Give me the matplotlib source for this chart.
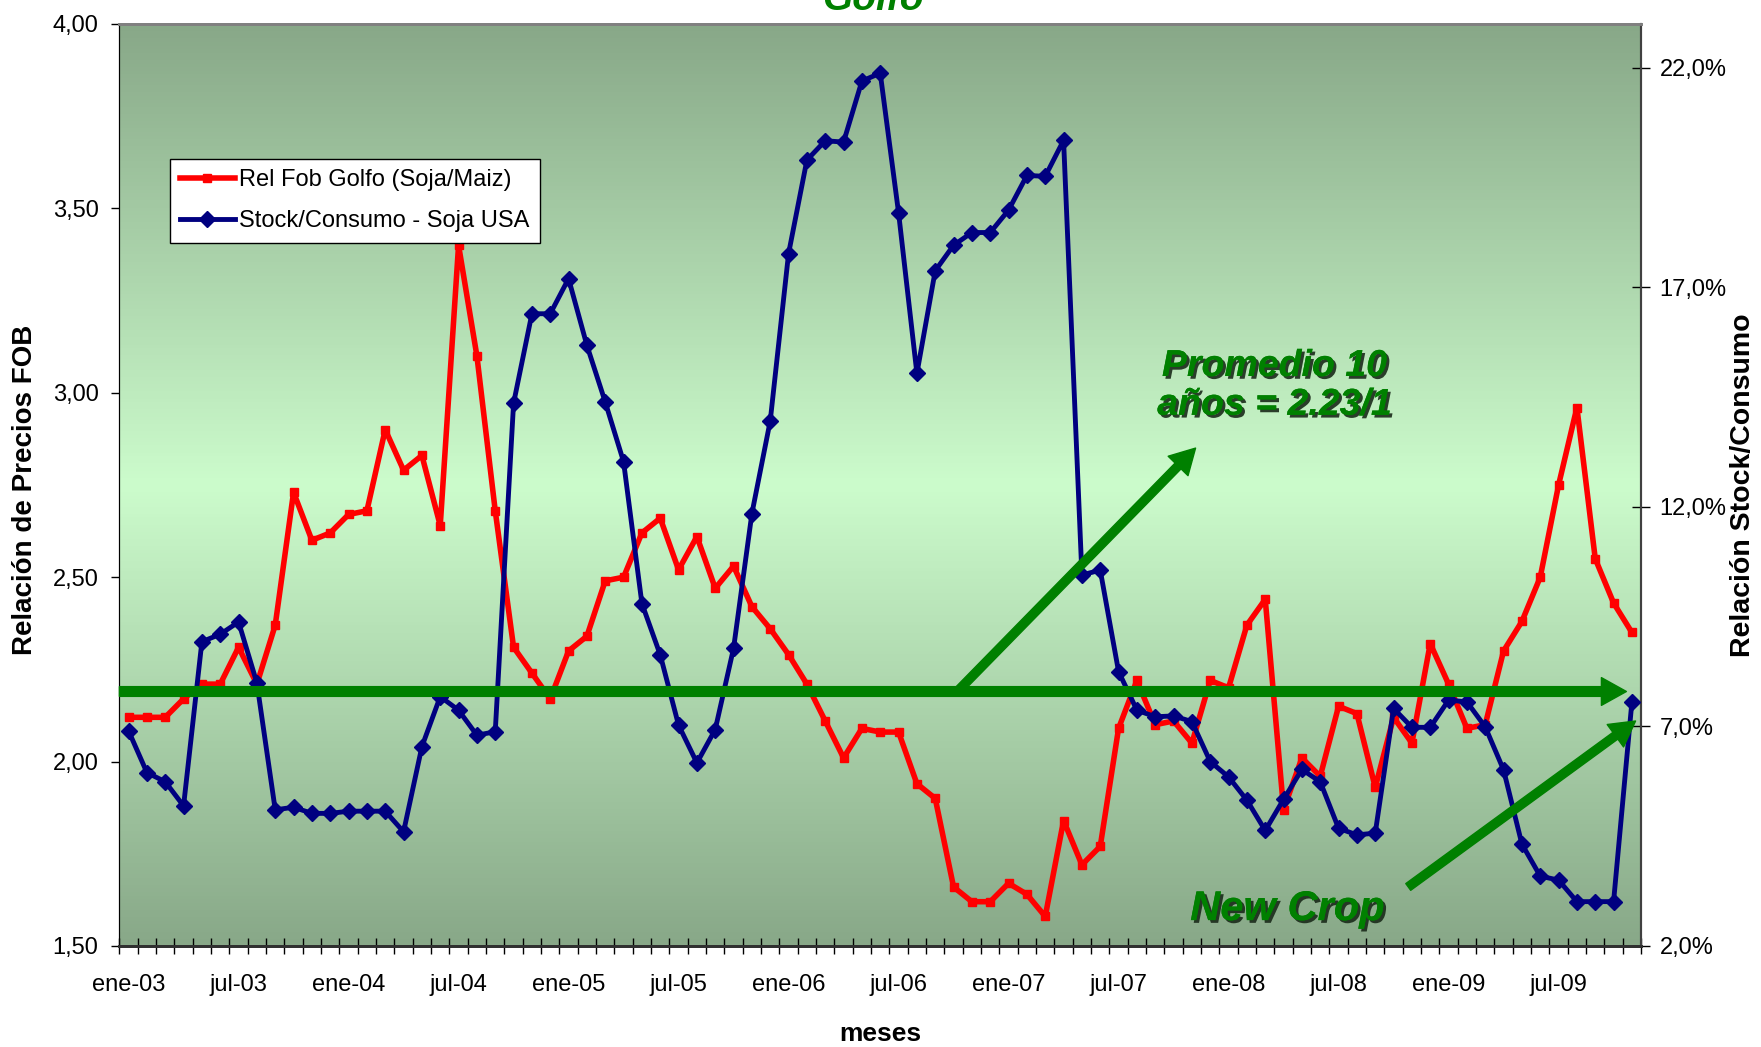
import matplotlib
matplotlib.use("Agg")
import matplotlib.pyplot as plt
import matplotlib.patheffects as pe
from matplotlib.colors import LinearSegmentedColormap
from matplotlib.ticker import FuncFormatter, FixedLocator, MultipleLocator
import numpy as np

plt.rcParams['font.family'] = ['Liberation Sans', 'DejaVu Sans']

# Datos: ene-03 ... nov-09 (mensual)
meses = ['ene-03', 'jul-03', 'ene-04', 'jul-04', 'ene-05', 'jul-05', 'ene-06',
         'jul-06', 'ene-07', 'jul-07', 'ene-08', 'jul-08', 'ene-09', 'jul-09']

rel_fob = [2.12, 2.12, 2.12, 2.17, 2.21, 2.21, 2.31, 2.21, 2.37, 2.73,
           2.60, 2.62, 2.67, 2.68, 2.90, 2.79, 2.83, 2.64, 3.40, 3.10,
           2.68, 2.31, 2.24, 2.17, 2.30, 2.34, 2.49, 2.50, 2.62, 2.66,
           2.52, 2.61, 2.47, 2.53, 2.42, 2.36, 2.29, 2.21, 2.11, 2.01,
           2.09, 2.08, 2.08, 1.94, 1.90, 1.66, 1.62, 1.62, 1.67, 1.64,
           1.58, 1.84, 1.72, 1.77, 2.09, 2.22, 2.10, 2.11, 2.05, 2.22,
           2.20, 2.37, 2.44, 1.87, 2.01, 1.96, 2.15, 2.13, 1.93, 2.12,
           2.05, 2.32, 2.21, 2.09, 2.10, 2.30, 2.38, 2.50, 2.75, 2.96,
           2.55, 2.43, 2.35]

stock_consumo = [6.90, 5.95, 5.74, 5.19, 8.93, 9.10, 9.38, 7.99, 5.10, 5.16,
                 5.02, 5.02, 5.07, 5.07, 5.07, 4.60, 6.54, 7.68, 7.37, 6.80,
                 6.88, 14.36, 16.40, 16.40, 17.20, 15.68, 14.39, 13.03, 9.80, 8.63,
                 7.03, 6.17, 6.93, 8.78, 11.85, 13.96, 17.77, 19.90, 20.34, 20.31,
                 21.70, 21.88, 18.70, 15.04, 17.38, 17.96, 18.25, 18.25, 18.76, 19.55,
                 19.53, 20.35, 10.45, 10.56, 8.25, 7.37, 7.22, 7.24, 7.11, 6.20,
                 5.85, 5.32, 4.63, 5.34, 6.02, 5.74, 4.68, 4.53, 4.57, 7.41,
                 6.98, 6.98, 7.60, 7.56, 6.99, 6.01, 4.32, 3.59, 3.50, 3.01,
                 3.01, 3.01, 7.56]

promedio_linea = 2.19

fig = plt.figure(figsize=(17.61, 10.47), dpi=100)
ax = fig.add_axes([0.0678, 0.0965, 0.8641, 0.8806])
ax2 = ax.twinx()

n = len(rel_fob)
x = np.arange(n)

# fondo degradado
cmap = LinearSegmentedColormap.from_list('fondo', ['#88a888', '#ccfccc', '#88a888'])
grad = np.linspace(0, 1, 256).reshape(-1, 1)
ax.imshow(grad, cmap=cmap, aspect='auto', extent=(-0.5, n - 0.5, 1.5, 4.0),
          zorder=0, origin='upper')

l1, = ax.plot(x, rel_fob, color='#ff0000', lw=4, marker='s', ms=5.5,
              label='Rel Fob Golfo (Soja/Maiz)', zorder=3)
l2, = ax2.plot(x, np.array(stock_consumo) / 100, color='#000080', lw=3.5, marker='D',
               ms=8.5, label='Stock/Consumo - Soja USA', zorder=3)

ax.set_xlim(-0.5, n - 0.5)
ax.set_ylim(1.5, 4.0)
ax2.set_ylim(0.02, 0.23)
ax2.patch.set_visible(False)

ax.yaxis.set_major_locator(MultipleLocator(0.5))
ax.yaxis.set_major_formatter(FuncFormatter(lambda v, p: f'{v:.2f}'.replace('.', ',')))
ax2.yaxis.set_major_locator(FixedLocator([0.02, 0.07, 0.12, 0.17, 0.22]))
ax2.yaxis.set_major_formatter(FuncFormatter(lambda v, p: f'{v*100:.1f}%'.replace('.', ',')))

ax.set_xticks(np.arange(0, n, 6))
ax.set_xticklabels(meses)
ax.set_xticks(np.arange(-0.5, n, 1), minor=True)
ax.tick_params(axis='x', which='major', length=0, pad=20, labelsize=17)
ax.tick_params(axis='x', which='minor', direction='inout', length=12, width=1)
ax.tick_params(axis='y', direction='out', length=6, width=1, pad=9, labelsize=17)
ax2.tick_params(axis='y', direction='inout', length=12.5, width=1, pad=7, labelsize=17)

for a in (ax, ax2):
    a.spines['top'].set_color('#808080')
    a.spines['top'].set_linewidth(2)
    a.spines['bottom'].set_color('#303030')
    a.spines['bottom'].set_linewidth(2)
    a.spines['left'].set_color('black')
    a.spines['right'].set_color('#404040')
    a.spines['right'].set_linewidth(1.5)

# flechas (dibujadas en ax2 para quedar sobre la serie azul, en coordenadas de ax)
verde = '#008000'
estilo = 'simple,head_length=18,head_width=20,tail_width=7'
estilo2 = 'simple,head_length=18,head_width=20,tail_width=6'
ax2.annotate('', xy=(81.7, promedio_linea), xytext=(-0.5, promedio_linea),
             xycoords=ax.transData, textcoords=ax.transData,
             arrowprops=dict(arrowstyle=estilo, color=verde, mutation_scale=1,
                             shrinkA=0, shrinkB=0), zorder=5, annotation_clip=False)
ax2.annotate('', xy=(58.2, 2.85), xytext=(45.2, promedio_linea),
             xycoords=ax.transData, textcoords=ax.transData,
             arrowprops=dict(arrowstyle=estilo2, color=verde, mutation_scale=1,
                             shrinkA=0, shrinkB=0), zorder=5)
ax2.annotate('', xy=(82.2, 2.11), xytext=(69.8, 1.66),
             xycoords=ax.transData, textcoords=ax.transData,
             arrowprops=dict(arrowstyle=estilo2, color=verde, mutation_scale=1,
                             shrinkA=0, shrinkB=0), zorder=5)

sombra = [pe.withSimplePatchShadow(offset=(2, -2), shadow_rgbFace='#1a2a1a', alpha=0.9), pe.Normal()]
ax2.text(62.5, 3.02, 'Promedio 10\naños = 2.23/1', transform=ax.transData, color=verde,
         fontsize=27, fontweight='bold', fontstyle='italic', ha='center', va='center',
         linespacing=1.1, zorder=7, path_effects=sombra)
ax2.text(63.2, 1.60, 'New Crop', transform=ax.transData, color=verde, fontsize=30,
         fontweight='bold', fontstyle='italic', ha='center', va='center', zorder=7,
         path_effects=sombra)

leg = ax2.legend(handles=[l1, l2], loc='upper left', bbox_to_anchor=(0.033, 0.854),
                 borderaxespad=0, fontsize=17, frameon=True, fancybox=False,
                 edgecolor='black', framealpha=1, handlelength=2.3, handletextpad=0.2,
                 labelspacing=0.8, borderpad=0.45)
leg.get_frame().set_linewidth(1)
leg.set_zorder(10)

fig.text(0.4957, 1 - 10 / 1047, 'Golfo', color=verde, fontsize=28, fontweight='bold',
         fontstyle='italic', ha='center', va='baseline')
fig.text(25 / 1761, 1 - 490 / 1047, 'Relación de Precios FOB', rotation=90, fontsize=20,
         fontweight='bold', ha='center', va='center')
fig.text(1743 / 1761, 1 - 485 / 1047, 'Relación Stock/Consumo', rotation=90, fontsize=20.5,
         fontweight='bold', ha='center', va='center')
fig.text(880 / 1761, 1 - 1034 / 1047, 'meses', fontsize=19, fontweight='bold',
         ha='center', va='center')

fig.savefig('out.png', dpi=100, facecolor='white')
